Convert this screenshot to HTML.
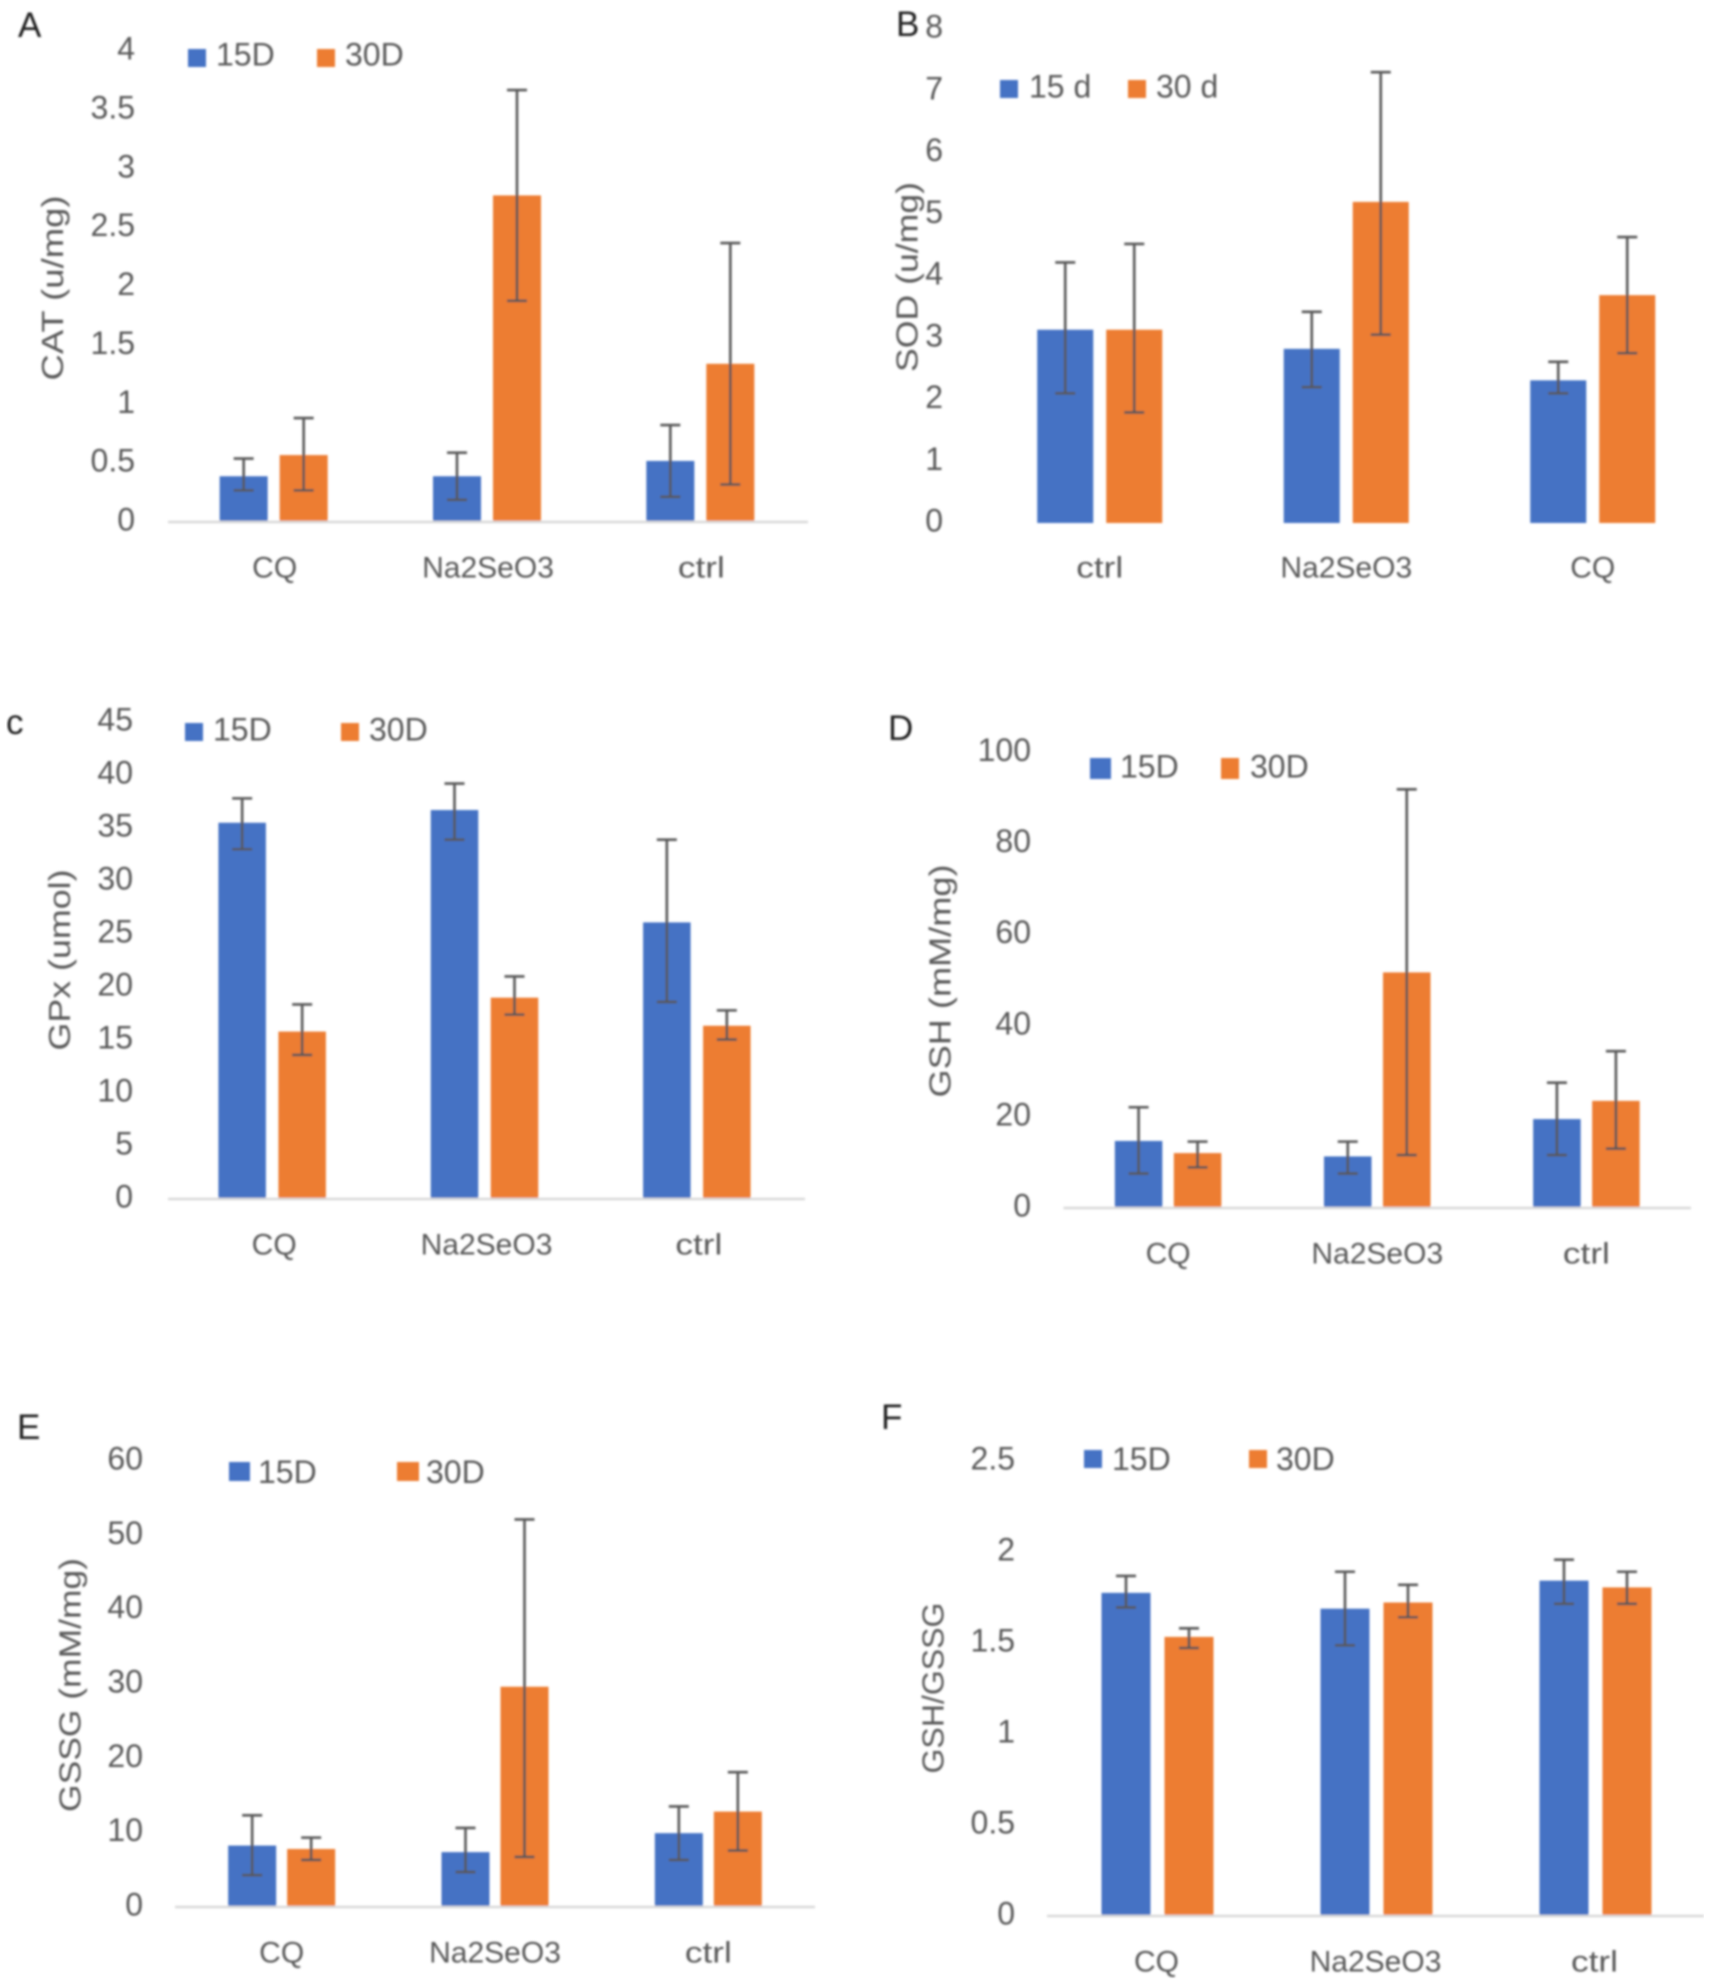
<!DOCTYPE html>
<html>
<head>
<meta charset="utf-8">
<title>Antioxidant markers by treatment</title>
<style>
html,body{margin:0;padding:0;background:#fff;}
svg{display:block;font-family:"Liberation Sans",sans-serif;}
</style>
</head>
<body>
<svg id="figure" xmlns="http://www.w3.org/2000/svg" width="1713" height="1984" viewBox="0 0 1713 1984">
<defs><filter id="soft" x="0" y="0" width="100%" height="100%"><feGaussianBlur stdDeviation="1"/></filter></defs>
<rect width="1713" height="1984" fill="#fff"/>
<g id="root" filter="url(#soft)"></g>
</svg>
<script>
// Panel A: CAT
const catCategories = ['CQ', 'Na2SeO3', 'ctrl'];
const catTicks = [0, 0.5, 1, 1.5, 2, 2.5, 3, 3.5, 4];
const cat15 = [0.38, 0.38, 0.51];
const cat30 = [0.56, 2.765, 1.335];
const cat15Upper = [0.53, 0.58, 0.815];
const cat15Lower = [0.26, 0.18, 0.205];
const cat30Upper = [0.874, 3.66, 2.36];
const cat30Lower = [0.26, 1.87, 0.31];

// Panel B: SOD
const sodCategories = ['ctrl', 'Na2SeO3', 'CQ'];
const sodTicks = [0, 1, 2, 3, 4, 5, 6, 7, 8];
const sod15 = [3.13, 2.82, 2.31];
const sod30 = [3.13, 5.2, 3.69];
const sod15Upper = [4.22, 3.42, 2.61];
const sod15Lower = [2.1, 2.2, 2.1];
const sod30Upper = [4.52, 7.3, 4.63];
const sod30Lower = [1.79, 3.05, 2.75];

// Panel C: GPx
const gpxCategories = ['CQ', 'Na2SeO3', 'ctrl'];
const gpxTicks = [0, 5, 10, 15, 20, 25, 30, 35, 40, 45];
const gpx15 = [35.4, 36.6, 26];
const gpx30 = [15.7, 18.9, 16.25];
const gpx15Upper = [37.7, 39.1, 33.8];
const gpx15Lower = [32.9, 33.8, 18.5];
const gpx30Upper = [18.26, 20.9, 17.7];
const gpx30Lower = [13.5, 17.3, 14.95];

// Panel D: GSH
const gshCategories = ['CQ', 'Na2SeO3', 'ctrl'];
const gshTicks = [0, 20, 40, 60, 80, 100];
const gsh15 = [14.5, 11.1, 19.3];
const gsh30 = [11.84, 51.5, 23.3];
const gsh15Upper = [21.9, 14.35, 27.3];
const gsh15Lower = [7.35, 7.35, 11.4];
const gsh30Upper = [14.35, 91.7, 34.2];
const gsh30Lower = [8.7, 11.4, 12.8];

// Panel E: GSSG
const gssgCategories = ['CQ', 'Na2SeO3', 'ctrl'];
const gssgTicks = [0, 10, 20, 30, 40, 50, 60];
const gssg15 = [8.13, 7.25, 9.8];
const gssg30 = [7.67, 29.5, 12.7];
const gssg15Upper = [12.2, 10.5, 13.4];
const gssg15Lower = [4.15, 4.56, 6.2];
const gssg30Upper = [9.2, 52, 18];
const gssg30Lower = [6.2, 6.6, 7.46];

// Panel F: GSH/GSSG
const ratioCategories = ['CQ', 'Na2SeO3', 'ctrl'];
const ratioTicks = [0, 0.5, 1, 1.5, 2, 2.5];
const ratio15 = [1.77, 1.683, 1.837];
const ratio30 = [1.528, 1.717, 1.8];
const ratio15Upper = [1.863, 1.886, 1.952];
const ratio15Lower = [1.69, 1.482, 1.71];
const ratio30Upper = [1.575, 1.814, 1.886];
const ratio30Lower = [1.467, 1.636, 1.71];

const NS = 'http://www.w3.org/2000/svg';
const BLUE = '#4472C4', ORANGE = '#ED7D31', GREY = '#595959';
const root = document.getElementById('root');

function make(parent, tag, attrs, content) {
  const el = document.createElementNS(NS, tag);
  for (const k in attrs) el.setAttribute(k, attrs[k]);
  if (content !== undefined) el.textContent = content;
  parent.appendChild(el);
  return el;
}

function drawLegendEntry(g, entry, color, name) {
  const sw = make(g, 'rect', {x: entry.sx, y: entry.sy, width: entry.sw, height: entry.sh, fill: color});
  
  
  const t = make(g, 'text', {x: entry.tx, y: entry.ty, 'font-size': 32, fill: GREY, 'dominant-baseline': 'central'}, entry.label);
  
  
}

function drawPanel(p, categories, ticks, s15, s30, u15, l15, u30, l30) {
  const g = make(root, 'g', {});
  
  

  const maxV = ticks[ticks.length - 1];
  const yScale = v => p.base - (v / maxV) * (p.base - p.top);
  const band = (p.x1 - p.x0) / categories.length;
  const xCenter = i => p.x0 + band * (i + 0.5);

  const letter = make(g, 'text', {x: p.lx, y: p.ly, 'font-size': 35, fill: '#222'}, p.letter);
  
  

  ticks.forEach(v => {
    const t = make(g, 'text', {x: p.tickX, y: yScale(v) + p.tickDy, 'font-size': 32, fill: GREY, 'text-anchor': 'end', 'dominant-baseline': 'central'}, String(v));
    
    
  });

  const title = make(g, 'text', {x: 0, y: 0, 'font-size': 31, fill: GREY, 'text-anchor': 'middle', 'dominant-baseline': 'central',
    textLength: p.titleLen, lengthAdjust: 'spacingAndGlyphs',
    transform: 'translate(' + p.titleX + ',' + p.titleY + ') rotate(-90)'}, p.title);
  
  

  const drawBar = (cx, v, upper, lower, color, name) => {
    const y = yScale(v);
    const bar = make(g, 'rect', {x: cx - p.barW / 2, y: y, width: p.barW, height: p.base - y, fill: color});
    
    
    const yu = yScale(upper), yl = yScale(lower);
    const errAttrs = {d: 'M' + cx + ' ' + yu + 'V' + yl + 'M' + (cx - 10) + ' ' + yu + 'H' + (cx + 10) + 'M' + (cx - 10) + ' ' + yl + 'H' + (cx + 10),
      stroke: GREY, 'stroke-width': 2.6, fill: 'none'};
    const err = make(g, 'path', errAttrs);
    
    
  };

  categories.forEach((c, i) => {
    const cx = xCenter(i);
    drawBar(cx + p.barDx - p.off, s15[i], u15[i], l15[i], BLUE, 'bar-15d-' + c.toLowerCase());
    drawBar(cx + p.barDx + p.off, s30[i], u30[i], l30[i], ORANGE, 'bar-30d-' + c.toLowerCase());
    const attrs = {x: cx, y: p.catY, 'font-size': 30, fill: GREY, 'text-anchor': 'middle', 'dominant-baseline': 'central'};
    if (c === 'ctrl') { attrs.textLength = 47; attrs.lengthAdjust = 'spacingAndGlyphs'; }
    const label = make(g, 'text', attrs, c);
    
    
  });

  if (p.axis) {
    const axis = make(g, 'line', {x1: p.x0, x2: p.x1, y1: p.base + 1, y2: p.base + 1, stroke: '#D9D9D9', 'stroke-width': 2.6});
    
    
  }

  const legend = make(g, 'g', {});
  
  
  drawLegendEntry(legend, p.leg15, BLUE, 'legend-15d');
  drawLegendEntry(legend, p.leg30, ORANGE, 'legend-30d');
}

drawPanel({id: 'a', letter: 'A', lx: 18, ly: 37, x0: 168, x1: 808, base: 521, top: 50, barW: 48, off: 30, barDx: -1, tickDy: -1.5, axis: true,
  tickX: 135, catY: 568, title: 'CAT (u/mg)', titleX: 52.5, titleY: 288, titleLen: 185,
  leg15: {sx: 188, sy: 49, sw: 18, sh: 18, tx: 216, ty: 54.5, label: '15D'},
  leg30: {sx: 317, sy: 49, sw: 18, sh: 18, tx: 345, ty: 54.5, label: '30D'}},
  catCategories, catTicks, cat15, cat30, cat15Upper, cat15Lower, cat30Upper, cat30Lower);

drawPanel({id: 'b', letter: 'B', lx: 896, ly: 36, x0: 976.5, x1: 1716, base: 523, top: 29, barW: 56, off: 34.5, barDx: 0, tickDy: -2.5, axis: false,
  tickX: 943, catY: 568, title: 'SOD (u/mg)', titleX: 907, titleY: 277, titleLen: 190,
  leg15: {sx: 1000, sy: 80, sw: 18, sh: 18, tx: 1029, ty: 86.5, label: '15 d'},
  leg30: {sx: 1128, sy: 80, sw: 18, sh: 18, tx: 1156, ty: 86.5, label: '30 d'}},
  sodCategories, sodTicks, sod15, sod30, sod15Upper, sod15Lower, sod30Upper, sod30Lower);

drawPanel({id: 'c', letter: 'c', lx: 6, ly: 734, x0: 168, x1: 805, base: 1198, top: 721, barW: 47.5, off: 30, barDx: -2, tickDy: -1.5, axis: true,
  tickX: 133, catY: 1245, title: 'GPx (umol)', titleX: 59.5, titleY: 960, titleLen: 181,
  leg15: {sx: 185, sy: 723, sw: 18, sh: 18, tx: 213, ty: 729.5, label: '15D'},
  leg30: {sx: 341, sy: 723, sw: 18, sh: 18, tx: 369, ty: 729.5, label: '30D'}},
  gpxCategories, gpxTicks, gpx15, gpx30, gpx15Upper, gpx15Lower, gpx30Upper, gpx30Lower);

drawPanel({id: 'd', letter: 'D', lx: 888, ly: 740, x0: 1063.5, x1: 1691, base: 1207, top: 751.5, barW: 47.5, off: 29.5, barDx: 0, tickDy: -1.5, axis: true,
  tickX: 1031, catY: 1254, title: 'GSH (mM/mg)', titleX: 940, titleY: 981, titleLen: 233,
  leg15: {sx: 1090, sy: 758, sw: 21, sh: 21, tx: 1120, ty: 766.5, label: '15D'},
  leg30: {sx: 1221, sy: 758, sw: 18, sh: 21, tx: 1250, ty: 766.5, label: '30D'}},
  gshCategories, gshTicks, gsh15, gsh30, gsh15Upper, gsh15Lower, gsh30Upper, gsh30Lower);

drawPanel({id: 'e', letter: 'E', lx: 17, ly: 1439, x0: 175, x1: 815, base: 1906, top: 1460, barW: 48, off: 29.5, barDx: 0, tickDy: -1.5, axis: true,
  tickX: 143, catY: 1953, title: 'GSSG (mM/mg)', titleX: 70, titleY: 1685, titleLen: 254,
  leg15: {sx: 229, sy: 1462, sw: 21, sh: 19, tx: 258, ty: 1472, label: '15D'},
  leg30: {sx: 397, sy: 1462, sw: 22, sh: 19, tx: 426, ty: 1472, label: '30D'}},
  gssgCategories, gssgTicks, gssg15, gssg30, gssg15Upper, gssg15Lower, gssg30Upper, gssg30Lower);

drawPanel({id: 'f', letter: 'F', lx: 881, ly: 1429, x0: 1047, x1: 1704, base: 1915, top: 1460, barW: 49, off: 31.5, barDx: 1, tickDy: -1.5, axis: true,
  tickX: 1015, catY: 1962, title: 'GSH/GSSG', titleX: 933, titleY: 1688, titleLen: 171,
  leg15: {sx: 1084, sy: 1450, sw: 18, sh: 18, tx: 1112, ty: 1459, label: '15D'},
  leg30: {sx: 1249, sy: 1450, sw: 18, sh: 18, tx: 1276, ty: 1459, label: '30D'}},
  ratioCategories, ratioTicks, ratio15, ratio30, ratio15Upper, ratio15Lower, ratio30Upper, ratio30Lower);
</script>
</body>
</html>
